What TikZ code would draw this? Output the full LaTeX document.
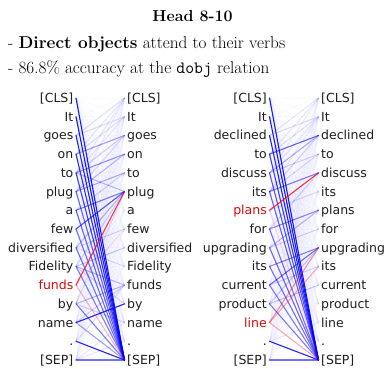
\documentclass[tikz,border=0pt]{standalone}
\usepackage{fontspec}
\newfontfamily\tokfont{DejaVu Sans}
\definecolor{attblue}{RGB}{0,0,255}
\definecolor{attred}{RGB}{255,0,0}
\definecolor{tokred}{RGB}{214,10,10}
\definecolor{toktext}{RGB}{30,30,30}
\begin{document}
\begin{tikzpicture}[x=1pt,y=-1pt,
  tok/.style={font=\tokfont\fontsize{12.5}{14}\selectfont, inner sep=0pt, text=toktext},
  tokl/.style={tok, anchor=base east},
  tokr/.style={tok, anchor=base west},
  att/.style={line width=1.1pt, attblue, line cap=round},
  attr/.style={line width=1.1pt, attred, line cap=round},
  faint/.style={line width=0.9pt, attblue, opacity=0.025},
  body/.style={font=\fontsize{17.2}{20}\selectfont, inner sep=0pt, anchor=base west},
  titlestyle/.style={font=\fontsize{16}{19}\selectfont\bfseries, inner sep=0pt, anchor=base}]
\useasboundingbox (0,0) rectangle (384,368);

% ---- header text ----
\node[titlestyle] (title) at (192.5,21) {Head 8-10};
\node[body] (line1) at (8,48.5) {- \textbf{Direct objects} attend to their verbs};
\node[body] (line2) at (8,73.5) {- 86.8\% accuracy at the \texttt{dobj} relation};

% ---- coordinates ----
\foreach \i in {0,...,14}{
  \coordinate (al\i) at (76,{98+18.714*\i});
  \coordinate (ar\i) at (124.5,{98+18.714*\i});
  \coordinate (bl\i) at (269.5,{98+18.714*\i});
  \coordinate (br\i) at (318.5,{98+18.714*\i});
}

% ---- faint background attention ----
\foreach \i in {0,...,14}{
  \foreach \j in {0,...,14}{
    \draw[faint] (al\i) -- (ar\j);
    \draw[faint] (bl\i) -- (br\j);
  }
}

% ---- panel A: attention ----
\foreach \i/\j/\w in {
  2/0/0.1, 3/0/0.08, 4/0/0.08, 5/0/0.06, 2/1/0.12, 3/1/0.1, 4/1/0.08,
  3/2/0.35, 4/2/0.15, 5/2/0.12, 4/3/0.4, 5/3/0.25, 5/4/0.3, 6/4/0.15,
  4/5/0.25, 6/5/0.5, 7/5/0.65, 8/5/0.25, 9/5/0.15, 11/5/0.12,
  8/7/0.15, 9/8/0.2, 8/9/0.12, 9/10/0.25, 11/10/0.25, 12/10/0.15, 13/10/0.1,
  12/11/0.85, 11/12/0.15, 9/11/0.12, 14/12/0.08, 14/13/0.08,
  0/14/0.9, 1/14/0.9, 2/14/0.85, 3/14/0.8, 4/14/0.75, 5/14/0.6, 6/14/0.6,
  7/14/0.55, 8/14/0.55, 9/14/0.5, 11/14/0.5, 12/14/0.35, 13/14/0.85, 14/14/0.55}{
  \draw[att, opacity=\w] (al\i) -- (ar\j);
}
\draw[attr, opacity=0.75] (al10) -- (ar5);
\draw[attr, opacity=0.25] (al10) -- (ar14);
\draw[attr, opacity=0.1] (al10) -- (ar7);

% ---- panel B: attention ----
\foreach \i/\j/\w in {
  2/0/0.08, 3/0/0.08, 4/0/0.06, 2/1/0.12, 3/1/0.1, 4/1/0.08, 5/1/0.06,
  3/2/0.6, 4/2/0.3, 5/2/0.15, 4/3/0.15, 5/3/0.12,
  5/4/0.5, 7/4/0.15, 6/5/0.12, 7/6/0.45, 8/6/0.25, 8/7/0.15,
  9/8/0.45, 10/8/0.55, 11/8/0.2, 10/9/0.15, 11/10/0.2, 13/12/0.08,
  0/14/0.9, 1/14/0.9, 2/14/0.85, 3/14/0.75, 4/14/0.65, 5/14/0.6, 7/14/0.55,
  8/14/0.55, 9/14/0.55, 10/14/0.5, 11/14/0.5, 13/14/0.85, 14/14/0.55}{
  \draw[att, opacity=\w] (bl\i) -- (br\j);
}
\draw[attr, opacity=0.8] (bl6) -- (br4);
\draw[attr, opacity=0.12] (bl6) -- (br14);
\draw[attr, opacity=0.4] (bl12) -- (br8);
\draw[attr, opacity=0.3] (bl12) -- (br9);
\draw[attr, opacity=0.3] (bl12) -- (br14);
\draw[attr, opacity=0.1] (bl8) -- (br14);

% ---- tokens ----
\foreach \t [count=\k from 0] in {{[CLS]},It,goes,on,to,plug,a,few,diversified,Fidelity,funds,by,name,.,{[SEP]}}{
  \ifnum\k=10
    \node[tokl, text=tokred] (at\k) at ([xshift=-2.5pt,yshift=-4.5pt]al\k) {\t};
  \else
    \node[tokl] (at\k) at ([xshift=-2.5pt,yshift=-4.5pt]al\k) {\t};
  \fi
  \node[tokr] (aw\k) at ([xshift=2.5pt,yshift=-4.5pt]ar\k) {\t};
}
\foreach \t [count=\k from 0] in {{[CLS]},It,declined,to,discuss,its,plans,for,upgrading,its,current,product,line,.,{[SEP]}}{
  \ifnum\k=6
    \node[tokl, text=tokred] (bt\k) at ([xshift=-2.5pt,yshift=-4.5pt]bl\k) {\t};
  \else\ifnum\k=12
    \node[tokl, text=tokred] (bt\k) at ([xshift=-2.5pt,yshift=-4.5pt]bl\k) {\t};
  \else
    \node[tokl] (bt\k) at ([xshift=-2.5pt,yshift=-4.5pt]bl\k) {\t};
  \fi\fi
  \node[tokr] (bw\k) at ([xshift=2.5pt,yshift=-4.5pt]br\k) {\t};
}
\end{tikzpicture}
\end{document}
